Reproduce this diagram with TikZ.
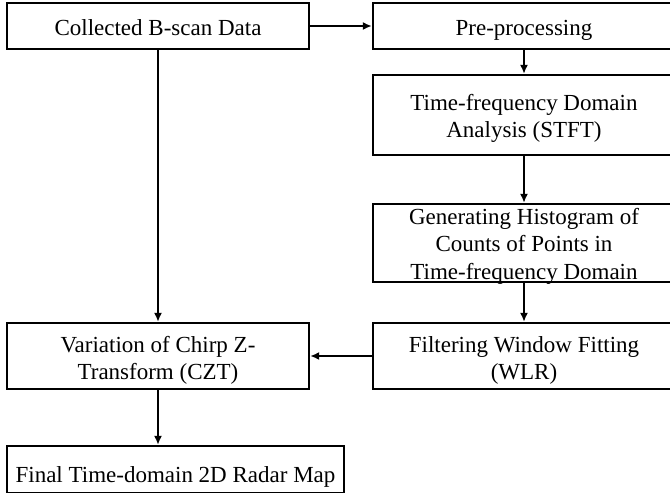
\documentclass[tikz,border=0pt]{standalone}
\usepackage{fontspec}
\setmainfont{Liberation Serif}
\usetikzlibrary{arrows.meta}
\begin{document}
\begin{tikzpicture}[x=1pt,y=-1pt,
  box/.style={draw=black,line width=2.3pt,inner sep=0pt,minimum width=302pt},
  txt/.style={inner sep=0pt,align=center,font=\fontsize{23}{27.5}\selectfont},
  conn/.style={line width=2.1pt,-{Latex[length=9pt,width=8pt]}}]
\useasboundingbox (0,0) rectangle (670,493);
% boxes
\node[box,minimum height=46pt] (b1) at (158,26) {};
\node[box,minimum height=46pt] (b2) at (524,26) {};
\node[box,minimum height=80pt] (b3) at (524,115) {};
\node[box,minimum height=78pt] (b4) at (524,243) {};
\node[box,minimum height=66pt] (b5) at (524,356) {};
\node[box,minimum height=66pt] (b6) at (158,356) {};
\node[box,minimum width=337pt,minimum height=47pt] (b7) at (175.5,469.5) {};
% texts
\node[txt,anchor=base] (t1) at (158,35) {Collected B-scan Data};
\node[txt,anchor=base] (t2) at (524,35) {Pre-processing};
\node[txt] (t3) at (524,118.5) {Time-frequency Domain\\Analysis (STFT)};
\node[txt] (t4) at (524,246) {Generating Histogram of\\Counts of Points in\\Time-frequency Domain};
\node[txt] (t5) at (524,360.5) {Filtering Window Fitting\\(WLR)};
\node[txt] (t6) at (158,360.5) {Variation of Chirp Z-\\Transform (CZT)};
\node[txt,anchor=base] (t7) at (175.5,482) {Final Time-domain 2D Radar Map};
% connectors
\draw[conn] (b1.east) -- (b2.west);
\draw[conn] (b2.south) -- (b3.north);
\draw[conn] (b3.south) -- (b4.north);
\draw[conn] (b4.south) -- (b5.north);
\draw[conn] (b5.west) -- (b6.east);
\draw[conn] (b1.south) -- (b6.north);
\draw[conn] (b6.south) -- (b6.south |- b7.north);
\end{tikzpicture}
\end{document}
